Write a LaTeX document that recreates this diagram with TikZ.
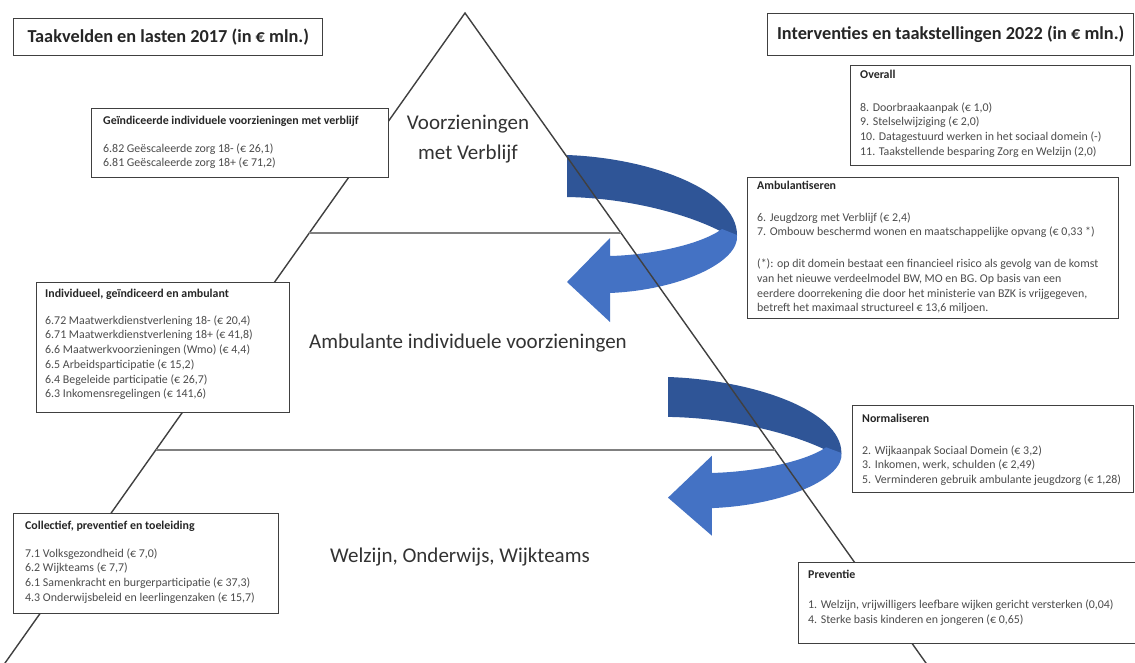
\documentclass[tikz,border=0pt]{standalone}
\usepackage{fontspec}
\setmainfont{Carlito}
\usetikzlibrary{calc}
\definecolor{arrdark}{RGB}{47,85,151}
\definecolor{arrlight}{RGB}{68,114,196}
\newcommand{\boxhead}[1]{\textcolor{black!85}{\bfseries #1}}
\begin{document}
\begin{tikzpicture}[x=1pt,y=-1pt,
  box/.style={draw=black!75, line width=1.4pt, fill=white, inner sep=0pt, anchor=north west},
  titlebox/.style={box, align=center, text=black!85, font=\fontsize{18.3}{22}\selectfont\bfseries},
  btext/.style={inner sep=0pt, anchor=north west, align=left, text=black!70, font=\fontsize{11.9}{14.7}\selectfont},
  big/.style={align=center, text=black!80, font=\fontsize{21}{30}\selectfont},
  tri/.style={draw=black!75, line width=1.4pt},
  hline/.style={draw=black!50, line width=2.2pt}]
\clip (0,0) rectangle (1135,662);
\fill[white] (0,0) rectangle (1135,662);

% curved arrows
\begin{scope}[shift={(567,155)}]
 \fill[arrdark] (0,0) .. controls (83,3) and (170,35) .. (170,80) -- (168,88) -- (155,77) .. controls (123,60) and (63,43) .. (0,42) -- cycle;
 \fill[arrlight] (155,74) .. controls (133,90) and (83,100) .. (43,101) -- (43,83) -- (0,127) -- (43,167) -- (43,138) .. controls (113,135) and (173,107) .. (170,80) -- cycle;
\end{scope}
\begin{scope}[shift={(668,377)}, xscale=1.02, yscale=0.95]
 \fill[arrdark] (0,0) .. controls (83,3) and (170,35) .. (170,80) -- (168,88) -- (155,77) .. controls (123,60) and (63,43) .. (0,42) -- cycle;
 \fill[arrlight] (155,74) .. controls (133,90) and (83,100) .. (43,101) -- (43,83) -- (0,127) -- (43,167) -- (43,138) .. controls (113,135) and (173,107) .. (170,80) -- cycle;
\end{scope}

% pyramid
\coordinate (apex) at (465,13);
\coordinate (bl) at (-7,680);
\coordinate (br) at (938,680);
\draw[tri, line join=miter] (bl) -- (apex) -- (br);
\coordinate (h1l) at ($(apex)!0.330!(bl)$);
\coordinate (h1r) at ($(apex)!0.330!(br)$);
\coordinate (h2l) at ($(apex)!0.655!(bl)$);
\coordinate (h2r) at ($(apex)!0.655!(br)$);
\draw[hline] (h1l) -- (h1r);
\draw[hline] (h2l) -- (h2r);

% level labels
\node[big] (lv1) at (468,139) {Voorzieningen\\met Verblijf};
\node[big] (lv2) at (468,343) {Ambulante individuele voorzieningen};
\node[big] (lv3) at (460,557) {Welzijn, Onderwijs, Wijkteams};

% titles
\node[titlebox, minimum width=309pt, minimum height=37pt] (tl) at (13,18) {Taakvelden en lasten 2017 (in € mln.)};
\node[titlebox, minimum width=366pt, minimum height=42pt] (tr) at (767,13) {Interventies en taakstellingen 2022 (in € mln.)};

% left boxes
\node[box, minimum width=297pt, minimum height=69pt] (geind) at (91,108) {};
\node[btext] (geindt) at ([shift={(12,8)}]geind.north west) {\boxhead{Geïndiceerde individuele voorzieningen met verblijf}\\[13pt]
6.82 Geëscaleerde zorg 18- (€ 26,1)\\
6.81 Geëscaleerde zorg 18+ (€ 71,2)};

\node[box, minimum width=253pt, minimum height=130pt] (indiv) at (36,282) {};
\node[btext] (indivt) at ([shift={(9,7)}]indiv.north west) {\boxhead{Individueel, geïndiceerd en ambulant}\\[12pt]
6.72 Maatwerkdienstverlening 18- (€ 20,4)\\
6.71 Maatwerkdienstverlening 18+ (€ 41,8)\\
6.6 Maatwerkvoorzieningen (Wmo) (€ 4,4)\\
6.5 Arbeidsparticipatie (€ 15,2)\\
6.4 Begeleide participatie (€ 26,7)\\
6.3 Inkomensregelingen (€ 141,6)};

\node[box, minimum width=265pt, minimum height=100pt] (coll) at (13,513) {};
\node[btext] (collt) at ([shift={(12,8)}]coll.north west) {\boxhead{Collectief, preventief en toeleiding}\\[13pt]
7.1 Volksgezondheid (€ 7,0)\\
6.2 Wijkteams (€ 7,7)\\
6.1 Samenkracht en burgerparticipatie (€ 37,3)\\
4.3 Onderwijsbeleid en leerlingenzaken (€ 15,7)};

% right boxes
\node[box, minimum width=280pt, minimum height=100pt] (over) at (850,65) {};
\node[btext] (overt) at ([shift={(10,5)}]over.north west) {\boxhead{Overall}\\[18pt]
8. Doorbraakaanpak (€ 1,0)\\
9. Stelselwijziging (€ 2,0)\\
10. Datagestuurd werken in het sociaal domein (-)\\
11. Taakstellende besparing Zorg en Welzijn (2,0)};

\node[box, minimum width=371pt, minimum height=141pt] (amb) at (747,177) {};
\node[btext] (ambt) at ([shift={(10,4)}]amb.north west) {\boxhead{Ambulantiseren}\\[17pt]
6. Jeugdzorg met Verblijf (€ 2,4)\\
7. Ombouw beschermd wonen en maatschappelijke opvang (€ 0,33 *)\\[17pt]
(*): op dit domein bestaat een financieel risico als gevolg van de komst\\
van het nieuwe verdeelmodel BW, MO en BG. Op basis van een\\
eerdere doorrekening die door het ministerie van BZK is vrijgegeven,\\
betreft het maximaal structureel € 13,6 miljoen.};

\node[box, minimum width=281pt, minimum height=87pt] (norm) at (852,405) {};
\node[btext] (normt) at ([shift={(10,9)}]norm.north west) {\boxhead{Normaliseren}\\[17pt]
2. Wijkaanpak Sociaal Domein (€ 3,2)\\
3. Inkomen, werk, schulden (€ 2,49)\\
5. Verminderen gebruik ambulante jeugdzorg (€ 1,28)};

\node[box, minimum width=345pt, minimum height=81pt] (prev) at (798,562) {};
\node[btext] (prevt) at ([shift={(10,8)}]prev.north west) {\boxhead{Preventie}\\[15pt]
1. Welzijn, vrijwilligers leefbare wijken gericht versterken (0,04)\\[1pt]
4. Sterke basis kinderen en jongeren (€ 0,65)};
\end{tikzpicture}
\end{document}
